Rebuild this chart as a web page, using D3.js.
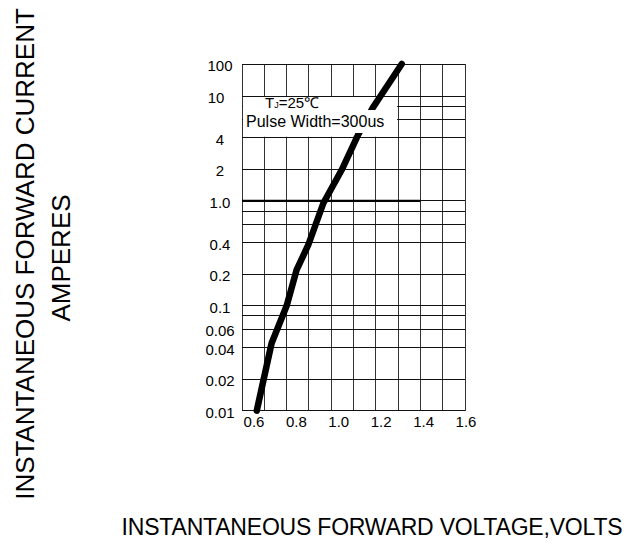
<!doctype html>
<html>
<head>
    <meta charset="utf-8">
    <script src="https://d3js.org/d3.v7.min.js"></script>
    <style>
        body { margin: 0; background: #fff; }
        text { font-family: "Liberation Sans", Arial, sans-serif; fill: #000; }
    </style>
</head>
<body>
    <svg width="636" height="544" id="mainsvg"></svg>
    <script>
        // forward curve
        const voltage = [0.613, 0.683, 0.754, 0.801, 0.856, 0.927, 1.014, 1.092, 1.160, 1.197, 1.297];
        const current = [0.01, 0.044, 0.10, 0.22, 0.38, 0.95, 1.98, 4.3, 7.7, 10, 100];

        const xTicks = [0.6, 0.8, 1.0, 1.2, 1.4, 1.6];
        const yTicks = [100, 10, 4, 2, 1, 0.4, 0.2, 0.1, 0.06, 0.04, 0.02, 0.01];
        const yTickLabels = ["100", "10", "4", "2", "1.0", "0.4", "0.2", "0.1", "0.06", "0.04", "0.02", "0.01"];
        const yGrid = [0.01, 0.02, 0.04, 0.06, 0.08, 0.1, 0.2, 0.4, 0.6, 0.8, 1, 2, 4, 6, 8, 10, 100];
        const gridColumns = d3.range(11);

        const svg = d3.select('svg');
        const plot = {left: 242, right: 465, top: 64, bottom: 410.7};

        // grid columns do not line up with the printed voltage labels in the original
        const gx = d3.scaleLinear().domain([0, 10]).range([plot.left, plot.right]);
        const x = d3.scaleLinear().domain([0.6, 1.6]).range([254, 466]);
        // the top decade (10..100) is squashed in the original
        const y = d3.scaleLog().domain([0.01, 10, 100]).range([plot.bottom, 96, plot.top]);

        const g = svg.append('g');

        // vertical grid
        g.selectAll('line.vg').data(gridColumns).join('line')
            .attr('class', 'vg')
            .attr('x1', d => gx(d)).attr('x2', d => gx(d))
            .attr('y1', plot.top).attr('y2', plot.bottom)
            .attr('stroke', '#333').attr('stroke-width', 1)
            .attr('shape-rendering', 'crispEdges');

        // horizontal grid
        g.selectAll('line.hg').data(yGrid).join('line')
            .attr('class', 'hg')
            .attr('x1', plot.left).attr('x2', plot.right)
            .attr('y1', d => y(d)).attr('y2', d => y(d))
            .attr('stroke', '#111').attr('stroke-width', 1)
            .attr('shape-rendering', 'crispEdges');

        // heavier 1.0 line
        g.append('line')
            .attr('x1', plot.left).attr('x2', gx(8))
            .attr('y1', y(1)).attr('y2', y(1))
            .attr('stroke', '#000').attr('stroke-width', 2.2);

        // white note box over the grid
        g.append('rect')
            .attr('x', plot.left + 1).attr('y', y(10) + 1)
            .attr('width', gx(7) - plot.left - 2)
            .attr('height', y(4) - y(10) - 2)
            .attr('fill', '#fff');

        // curve
        const line = d3.line().x((d, i) => x(voltage[i])).y(d => y(d));
        g.append('path')
            .attr('d', line(current))
            .attr('fill', 'none')
            .attr('stroke', '#000')
            .attr('stroke-width', 6.5)
            .attr('stroke-linecap', 'round')
            .attr('stroke-linejoin', 'round');

        // note text, second line hides the curve behind it
        g.append('rect')
            .attr('x', plot.left + 3).attr('y', 110)
            .attr('width', 146).attr('height', 23)
            .attr('fill', '#fff');

        const t1 = g.append('text')
            .attr('x', 265).attr('y', 108)
            .attr('font-size', 15);
        t1.append('tspan').text('T');
        t1.append('tspan').attr('font-size', 9).text('J');
        t1.append('tspan').text('=25℃');

        g.append('text')
            .attr('x', 246).attr('y', 127)
            .attr('font-size', 16)
            .text('Pulse Width=300us');

        // tick labels
        g.selectAll('text.yt').data(yTicks).join('text')
            .attr('class', 'yt')
            .attr('x', d => d === 10 ? 216 : 220)
            .attr('y', d => y(d) + 7)
            .attr('text-anchor', 'middle')
            .attr('font-size', 15)
            .text((d, i) => yTickLabels[i]);

        g.selectAll('text.xt').data(xTicks).join('text')
            .attr('class', 'xt')
            .attr('x', d => x(d))
            .attr('y', 427)
            .attr('text-anchor', 'middle')
            .attr('font-size', 15)
            .text(d => d.toFixed(1));

        // axis titles
        svg.append('text')
            .attr('transform', 'translate(34, 254) rotate(-90)')
            .attr('text-anchor', 'middle')
            .attr('font-size', 26)
            .text('INSTANTANEOUS FORWARD CURRENT');
        svg.append('text')
            .attr('transform', 'translate(70, 258) rotate(-90)')
            .attr('text-anchor', 'middle')
            .attr('font-size', 26)
            .text('AMPERES');

        svg.append('text')
            .attr('x', 372).attr('y', 535)
            .attr('text-anchor', 'middle')
            .attr('font-size', 23)
            .attr('letter-spacing', -0.2)
            .text('INSTANTANEOUS FORWARD VOLTAGE,VOLTS');
    </script>
</body>
</html>
